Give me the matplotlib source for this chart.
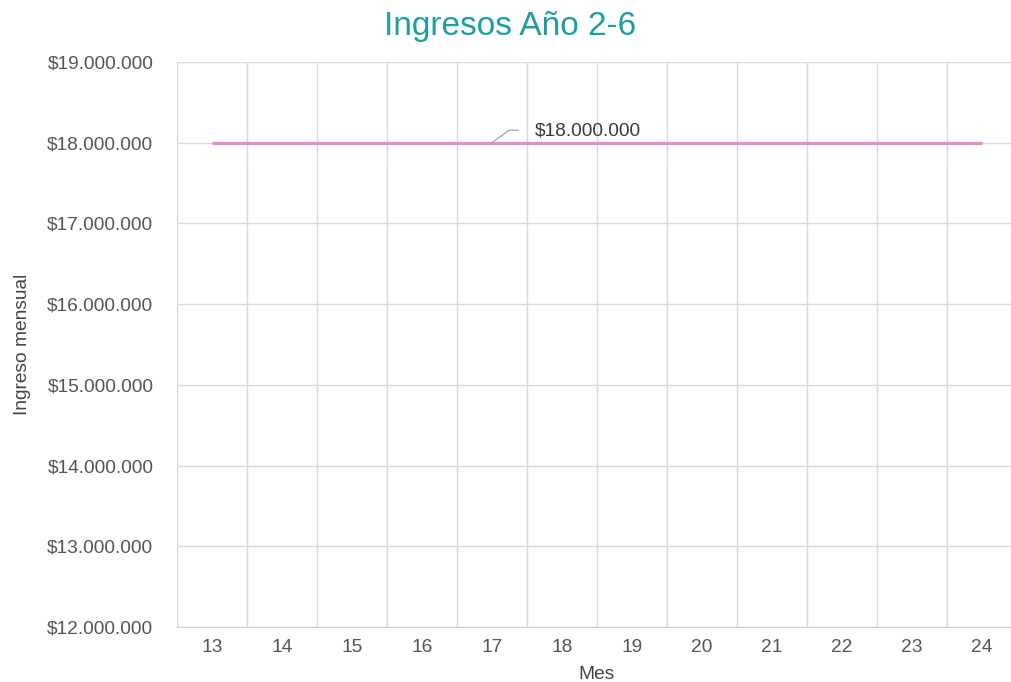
import matplotlib.pyplot as plt
from matplotlib.ticker import FuncFormatter, MultipleLocator

plt.rcParams['font.family'] = ['Liberation Sans', 'DejaVu Sans']

# monthly income, months 13 to 24
meses = [13, 14, 15, 16, 17, 18, 19, 20, 21, 22, 23, 24]
ingresos = [18000000] * 12
etiqueta_mes = 17  # month whose point carries the value label

y_min, y_max = 12000000, 19000000

def pesos(v, pos=None):
    return '$' + f'{int(v):,}'.replace(',', '.')

fig = plt.figure(figsize=(10.12, 6.82), dpi=100)
ax = fig.add_axes([177/1012, 55/682, 840/1012, 565/682])

ax.plot(meses, ingresos, color='#E98BD0', lw=2.3, solid_capstyle='butt', zorder=3)

# value label with a small leader line
i = meses.index(etiqueta_mes)
ax.annotate('', xy=(meses[i], ingresos[i]), xytext=(19, 9), textcoords='offset points',
            arrowprops=dict(arrowstyle='-', color='#9a9a9a', lw=0.8, shrinkA=0, shrinkB=0,
                            connectionstyle='angle,angleA=0,angleB=36,rad=0'))
ax.annotate(pesos(ingresos[i]), xy=(meses[i], ingresos[i]), xytext=(31, 8.5),
            textcoords='offset points', ha='left', va='center', fontsize=13.8, color='#3a3a3a')

ax.set_xlim(12.5, 24.5)
ax.set_ylim(y_min, y_max)
ax.set_xticks(meses)
ax.xaxis.set_minor_locator(MultipleLocator(1, offset=0.5))
ax.yaxis.set_major_locator(MultipleLocator(1000000))
ax.yaxis.set_major_formatter(FuncFormatter(pesos))

ax.grid(True, which='minor', axis='x', color='#d9d9d9', lw=1)
ax.grid(True, which='major', axis='y', color='#d9d9d9', lw=1)
ax.set_axisbelow(True)
ax.tick_params(which='both', length=0)
ax.tick_params(axis='y', pad=17, labelsize=13.8, labelcolor='#555555')
ax.tick_params(axis='x', pad=9, labelsize=13.8, labelcolor='#555555')
for s in ['top', 'right', 'left']:
    ax.spines[s].set_visible(False)
ax.spines['bottom'].set_color('#d0d0d0')

ax.set_xlabel('Mes', fontsize=13.8, color='#444444', labelpad=7)
ax.set_ylabel('Ingreso mensual', fontsize=13.8, color='#444444', labelpad=12)
fig.text(510/1012, 1 - 27/682, 'Ingresos Año 2-6', ha='center', va='center',
         fontsize=24, color='#1E9E9E')

fig.savefig('out.png', dpi=100)
